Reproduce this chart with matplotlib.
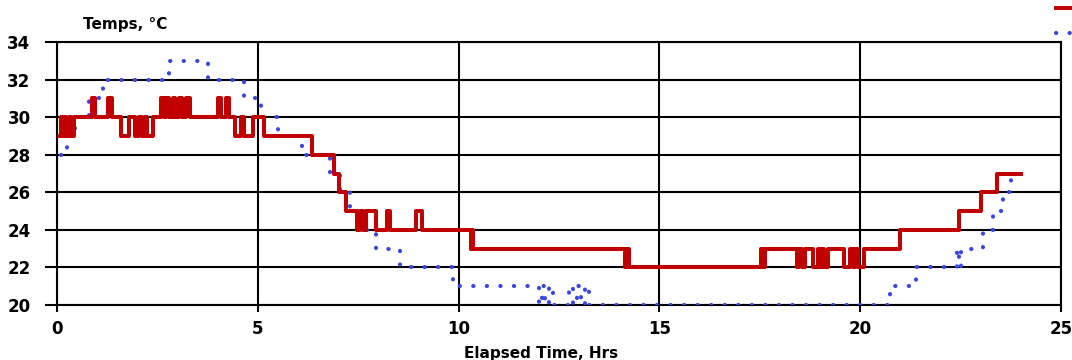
import matplotlib
matplotlib.use('Agg')
import matplotlib.pyplot as plt

# red trace (steps-post): time in hours, temp in deg C
red_t = [0.0, 0.10, 0.14, 0.18, 0.22, 0.30, 0.34, 0.42, 0.48, 0.88, 0.95, 1.28, 1.36,
         1.60, 1.80, 1.95, 2.05, 2.12, 2.20, 2.25, 2.40, 2.60, 2.66, 2.72, 2.80, 2.88,
         2.95, 3.05, 3.12, 3.22, 3.32, 4.00, 4.08, 4.20, 4.28, 4.42, 4.58, 4.65, 4.88,
         5.15, 6.35, 6.90, 7.02, 7.20, 7.48, 7.55, 7.62, 7.70, 7.95, 8.22, 8.30, 8.95,
         9.10, 10.30, 10.34, 10.37, 10.40, 14.15, 14.20, 14.25, 14.30, 17.52, 17.58,
         17.62, 17.68, 18.42, 18.48, 18.55, 18.62, 18.83, 18.95, 19.00, 19.05, 19.10,
         19.20, 19.60, 19.75, 19.82, 19.88, 19.95, 20.10, 21.00, 22.45, 23.00, 23.40,
         24.00]
red_v = [29, 30, 29, 30, 29, 30, 29, 30, 30, 31, 30, 31, 30,
         29, 30, 29, 30, 29, 30, 29, 30, 31, 30, 31, 30, 31,
         30, 31, 30, 31, 30, 31, 30, 31, 30, 29, 30, 29, 30,
         29, 28, 27, 26, 25, 24, 25, 24, 25, 24, 25, 24, 25,
         24, 23, 24, 23, 23, 22, 23, 22, 22, 23, 22,
         23, 23, 22, 23, 22, 23, 22, 23, 22, 23, 22,
         23, 22, 23, 22, 23, 22, 23, 24, 25, 26, 27,
         27]

# blue trace (steps-post)
blue_t = [0.10, 0.25, 0.45, 0.80, 1.15, 2.80, 3.75, 4.65, 5.08, 5.50, 6.10, 6.80, 7.05,
          7.30, 7.50, 7.95, 8.55, 9.85, 12.00, 12.08, 12.16, 12.24, 12.35, 12.75, 12.85,
          12.95, 13.05, 13.15, 13.25, 13.40, 20.75, 21.40, 22.40, 22.45, 22.50, 23.05,
          23.30, 23.55, 23.75, 23.85]
blue_v = [28, 29, 30, 31, 32, 33, 32, 31, 30, 29, 28, 27, 26,
          25, 24, 23, 22, 21, 20, 21, 20, 21, 20, 21, 20,
          21, 20, 21, 20, 20, 21, 22, 23, 22, 23, 24,
          25, 26, 27, 27]

x_ticks = [0, 5, 10, 15, 20, 25]
y_ticks = [20, 22, 24, 26, 28, 30, 32, 34]

plt.rcParams['font.family'] = ['DejaVu Sans']
fig = plt.figure(figsize=(10.72, 3.6), dpi=100)
ax = fig.add_axes([57 / 1072, 1 - 305 / 360, (1061 - 57) / 1072, (305 - 42) / 360])

blue_line, = ax.plot(blue_t, blue_v, drawstyle='steps-post', color='#3a46e0',
                     linewidth=3.0, linestyle=(0, (0.05, 3.2)),
                     dash_capstyle='round', zorder=3)
red_line, = ax.plot(red_t, red_v, drawstyle='steps-post', color='#c00000',
                    linewidth=2.9, zorder=4)

ax.set_xlim(0, 25)
ax.set_ylim(20, 34)
ax.set_xticks(x_ticks)
ax.set_yticks(y_ticks)
ax.grid(True, color='black', linewidth=1.5)
ax.set_axisbelow(True)
for s in ax.spines.values():
    s.set_color('black')
    s.set_linewidth(1.5)
ax.tick_params(axis='y', length=9, width=1.5, pad=10, labelsize=12)
ax.tick_params(axis='x', length=5, width=1.5, pad=6, labelsize=12)
for lab in ax.get_xticklabels() + ax.get_yticklabels():
    lab.set_fontweight('bold')

ax.set_xlabel('Elapsed Time, Hrs', fontsize=11, fontweight='bold', labelpad=0)
ax.xaxis.set_label_coords(0.482, -0.155)
fig.text(83 / 1072, 1 - 24 / 360, 'Temps, °C', fontsize=11, fontweight='bold',
         va='center', ha='left')

# legend is cropped at the right edge in the original, only the keys show
fig.legend(handles=[red_line, blue_line], labels=['', ''], loc='upper left',
           bbox_to_anchor=(1042 / 1072, 1 + 12 / 360), frameon=False,
           handlelength=3, handleheight=0.7, labelspacing=0.6, fontsize=11)

fig.savefig('out.png', dpi=100)
